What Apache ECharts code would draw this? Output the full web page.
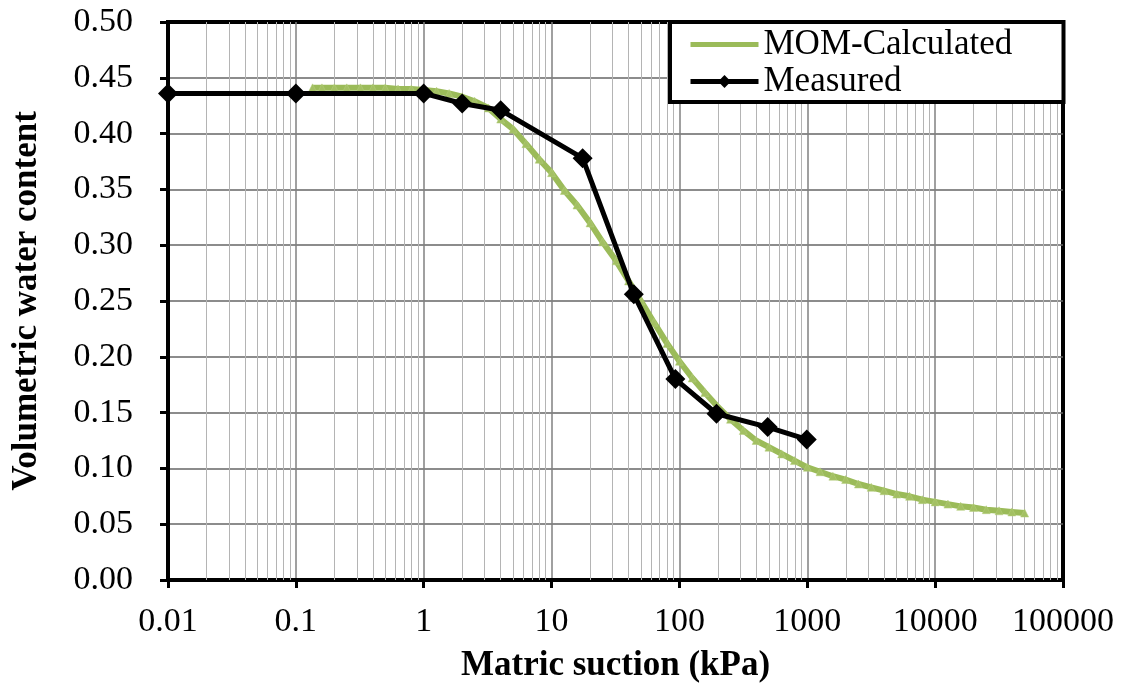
<!DOCTYPE html>
<html>
<head>
<meta charset="utf-8">
<script src="https://cdn.jsdelivr.net/npm/echarts@6/dist/echarts.min.js"></script>
<style>
  html, body { margin: 0; padding: 0; background: #fff; }
  #chart { width: 1126px; height: 687px; }
</style>
</head>
<body>
<div id="chart"></div>
<script>
// Soil-water characteristic curve: volumetric water content vs matric suction

// MOM-calculated curve (suction in kPa, volumetric water content)
const momSuction = [0.135, 0.16, 0.2, 0.25, 0.32, 0.4, 0.5, 0.63, 0.8, 1.0,
  1.26, 1.58, 2.0, 2.5, 3.2, 4.0, 5.0, 6.3, 8.0, 10,
  12.6, 15.8, 20, 25, 32, 40, 50, 63, 80, 100,
  126, 158, 200, 251, 316, 398, 501, 631, 794, 1000,
  1259, 1585, 1995, 2512, 3162, 3981, 5012, 6310, 7943, 10000,
  12589, 15849, 19953, 25119, 31623, 39811, 50119];
const momWater = [0.441, 0.441, 0.441, 0.441, 0.441, 0.441, 0.441, 0.440, 0.440, 0.439,
  0.438, 0.436, 0.433, 0.429, 0.423, 0.413, 0.404, 0.391, 0.377, 0.365,
  0.349, 0.336, 0.320, 0.303, 0.286, 0.268, 0.250, 0.231, 0.212, 0.196,
  0.181, 0.168, 0.155, 0.144, 0.134, 0.125, 0.119, 0.113, 0.107, 0.101,
  0.097, 0.093, 0.090, 0.086, 0.083, 0.080, 0.077, 0.075, 0.072, 0.070,
  0.068, 0.066, 0.065, 0.063, 0.062, 0.061, 0.060];

// Measured points
const measSuction = [0.01, 0.1, 1, 2, 4, 17.5, 44, 93, 195, 490, 990];
const measWater = [0.436, 0.436, 0.436, 0.427, 0.421, 0.378, 0.256, 0.180, 0.149, 0.137, 0.126];

// Axis tick labels
const xTickLabels = ['0.01', '0.1', '1', '10', '100', '1000', '10000', '100000'];
const yTickLabels = ['0.00', '0.05', '0.10', '0.15', '0.20', '0.25', '0.30', '0.35', '0.40', '0.45', '0.50'];

const seriesNames = ['MOM-Calculated', 'Measured'];

const FONT = 'Liberation Serif';
const GREEN = '#9bbb59';

// Minor log gridlines (2..9 within each decade)
const minorLines = [];
for (let e = -2; e < 5; e++) {
  for (let k = 2; k <= 9; k++) {
    minorLines.push({ xAxis: k * Math.pow(10, e) });
  }
}

const chart = echarts.init(document.getElementById('chart'), null, { renderer: 'canvas' });

chart.setOption({
  animation: false,
  backgroundColor: '#ffffff',
  grid: {
    left: 168, right: 63, top: 22, bottom: 107,
    outerBoundsMode: 'none',
    containLabel: false,
    show: true, borderColor: '#000', borderWidth: 4, backgroundColor: 'transparent'
  },
  legend: {
    data: [
      { name: seriesNames[0], itemStyle: { color: GREEN, opacity: 0 } },
      { name: seriesNames[1] }
    ],
    orient: 'vertical',
    left: 670, top: 22,
    padding: [5, 10, 3, 18],
    itemGap: 2,
    itemWidth: 68,
    itemHeight: 16,
    itemTextGap: 3,
    backgroundColor: '#fff',
    borderColor: '#000',
    borderWidth: 4,
    borderRadius: 0,
    lineStyle: { width: 5 },
    textStyle: { fontFamily: FONT, fontSize: 35, color: '#000', width: 290, lineHeight: 35 }
  },
  xAxis: {
    type: 'log',
    logBase: 10,
    min: 0.01,
    max: 100000,
    interval: 1,
    name: 'Matric suction (kPa)',
    nameLocation: 'middle',
    nameGap: 68,
    nameTextStyle: { fontFamily: FONT, fontSize: 35, fontWeight: 'bold', color: '#000' },
    axisLine: { show: true, lineStyle: { color: '#000', width: 4 } },
    axisTick: { show: true, inside: false, length: 8, lineStyle: { color: '#000', width: 3 } },
    axisLabel: {
      margin: 25,
      fontFamily: FONT, fontSize: 34, color: '#000',
      formatter: function (v) {
        const i = Math.round(Math.log10(v)) + 2;
        return xTickLabels[i] !== undefined ? xTickLabels[i] : '';
      }
    },
    splitLine: { show: true, showMinLine: false, showMaxLine: false, lineStyle: { color: '#808080', width: 1.5 } }
  },
  yAxis: {
    type: 'value',
    min: 0,
    max: 0.5,
    interval: 0.05,
    name: 'Volumetric water content',
    nameLocation: 'middle',
    nameGap: 124,
    nameRotate: 90,
    nameTextStyle: { fontFamily: FONT, fontSize: 35, fontWeight: 'bold', color: '#000' },
    axisLine: { show: true, lineStyle: { color: '#000', width: 4 } },
    axisTick: { show: true, inside: false, length: 8, lineStyle: { color: '#000', width: 3 } },
    axisLabel: {
      margin: 35,
      fontFamily: FONT, fontSize: 34, color: '#000',
      formatter: function (v) {
        const i = Math.round(v / 0.05);
        return yTickLabels[i] !== undefined ? yTickLabels[i] : '';
      }
    },
    splitLine: { show: true, showMinLine: false, showMaxLine: false, lineStyle: { color: '#666666', width: 1.5 } }
  },
  series: [
    {
      name: 'minor-grid',
      type: 'line',
      data: [],
      silent: true,
      z: 1,
      markLine: {
        silent: true,
        z: 1,
        symbol: ['none', 'none'],
        label: { show: false },
        lineStyle: { color: '#b4b4b4', width: 1, type: 'solid' },
        emphasis: { disabled: true },
        data: minorLines
      }
    },
    {
      name: seriesNames[0],
      type: 'line',
      z: 2,
      data: momSuction.map((s, i) => [s, momWater[i]]),
      symbol: 'triangle',
      symbolSize: 8,
      showSymbol: true,
      lineStyle: { color: GREEN, width: 6 },
      itemStyle: { color: '#a3c063', borderColor: '#b5cf7e', borderWidth: 0.5 }
    },
    {
      name: seriesNames[1],
      type: 'line',
      z: 3,
      data: measSuction.map((s, i) => [s, measWater[i]]),
      symbol: 'diamond',
      symbolSize: 20,
      lineStyle: { color: '#000', width: 5 },
      itemStyle: { color: '#000' }
    }
  ]
});
</script>
</body>
</html>
